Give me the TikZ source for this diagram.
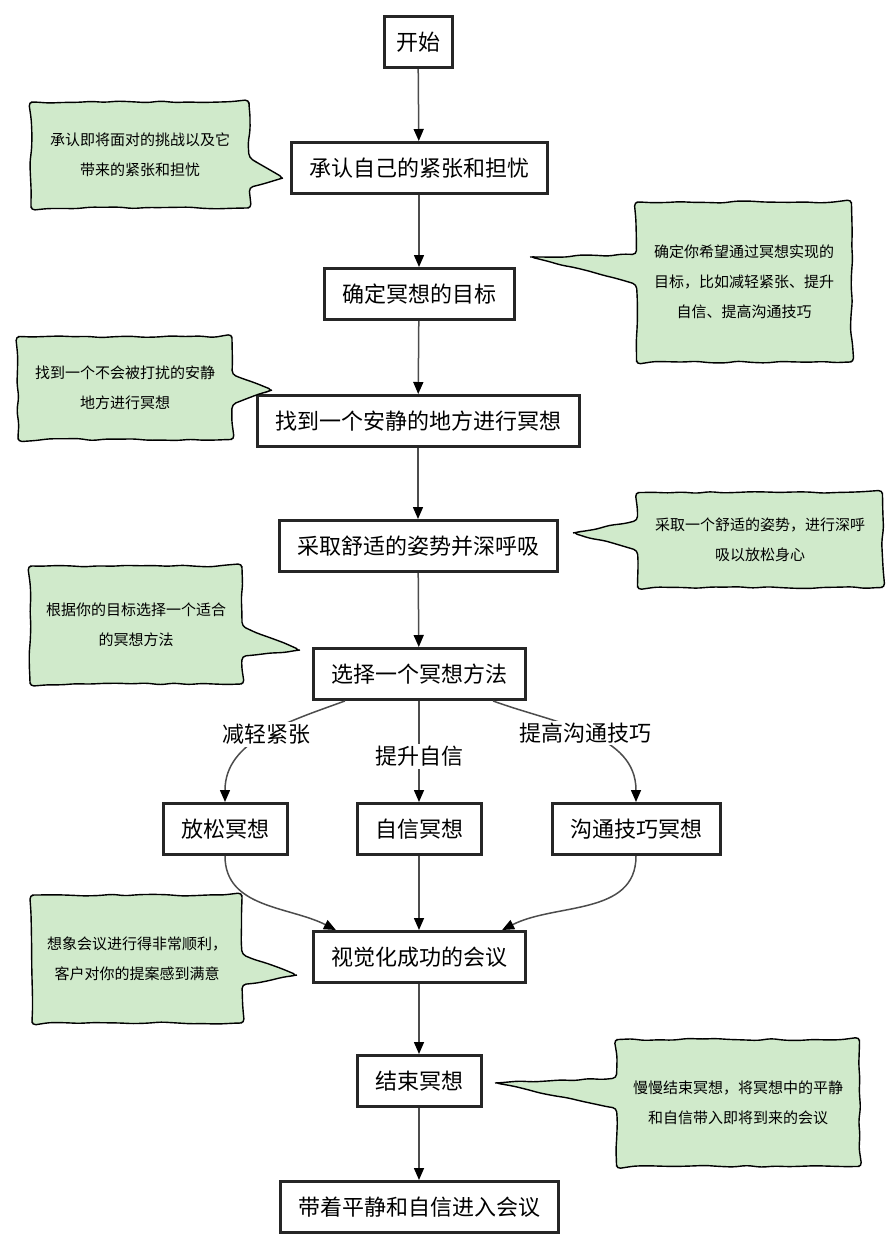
\documentclass[tikz,border=0pt]{standalone}
\usepackage{fontspec}
\setmainfont{Noto Sans CJK SC}
\usetikzlibrary{arrows.meta,shapes.callouts,decorations.pathmorphing}
\definecolor{notegreen}{RGB}{208,234,203}
\begin{document}
\begin{tikzpicture}[x=1pt,y=1pt,
    stepbox/.style={draw=black!85, line width=3pt, fill=white, minimum height=51pt, inner xsep=18pt, font=\fontsize{22}{24}\selectfont},
    note/.style={rectangle callout, draw, line width=1.4pt, fill=notegreen, align=center, callout pointer width=30pt, font=\fontsize{15}{30}\selectfont, decorate, decoration={random steps, segment length=14pt, amplitude=1.1pt}, rounded corners=4pt},
    arr/.style={draw=black!70, line width=1.5pt, -{Triangle[length=12pt,width=10pt,color=black]}},
    lbl/.style={fill=white, font=\fontsize{22}{24}\selectfont, inner sep=2pt}]
    \useasboundingbox (0,0) rectangle (891,-1251);
    \node[stepbox, inner xsep=12pt] (start) at (418,-42) {开始};
    \node[stepbox] (admit) at (419,-168) {承认自己的紧张和担忧};
    \node[stepbox] (goal) at (419,-294) {确定冥想的目标};
    \node[stepbox] (place) at (418,-421) {找到一个安静的地方进行冥想};
    \node[stepbox] (pose) at (418,-546) {采取舒适的姿势并深呼吸};
    \node[stepbox] (method) at (419,-674) {选择一个冥想方法};
    \node[stepbox] (relax) at (225,-829) {放松冥想};
    \node[stepbox] (trust) at (419,-829) {自信冥想};
    \node[stepbox] (talk) at (636,-829) {沟通技巧冥想};
    \node[stepbox] (visual) at (419,-957) {视觉化成功的会议};
    \node[stepbox] (finish) at (419,-1081) {结束冥想};
    \node[stepbox] (enter) at (419,-1207) {带着平静和自信进入会议};
    \draw[arr] (start) -- (admit);
    \draw[arr] (admit) -- (goal);
    \draw[arr] (goal) -- (place);
    \draw[arr] (place) -- (pose);
    \draw[arr] (pose) -- (method);
    \draw[arr] (method) to[out=200,in=90] node[lbl, pos=0.48]{减轻紧张} (relax.north);
    \draw[arr] (method) -- node[lbl, pos=0.55]{提升自信} (trust);
    \draw[arr] (method) to[out=-20,in=90] node[lbl, pos=0.48]{提高沟通技巧} (talk.north);
    \draw[arr] (relax) to[out=-90,in=153] (visual.162);
    \draw[arr] (trust) -- (visual);
    \draw[arr] (talk) to[out=-90,in=27] (visual.18);
    \draw[arr] (visual) -- (finish);
    \draw[arr] (finish) -- (enter);
    \node[note, minimum width=218pt, minimum height=106pt, callout absolute pointer={(283,-178)}] (n1) at (140,-155) {承认即将面对的挑战以及它\\带来的紧张和担忧};
    \node[note, minimum width=215pt, minimum height=160pt, callout absolute pointer={(530,-257)}] (n2) at (744,-282) {确定你希望通过冥想实现的\\目标，比如减轻紧张、提升\\自信、提高沟通技巧};
    \node[note, minimum width=214pt, minimum height=103pt, callout absolute pointer={(272,-390)}] (n3) at (125,-388) {找到一个不会被打扰的安静\\地方进行冥想};
    \node[note, minimum width=245pt, minimum height=95pt, callout absolute pointer={(573,-533)}] (n4) at (760,-540) {采取一个舒适的姿势，进行深呼\\吸以放松身心};
    \node[note, minimum width=212pt, minimum height=118pt, callout absolute pointer={(300,-650)}] (n5) at (136,-625) {根据你的目标选择一个适合\\的冥想方法};
    \node[note, minimum width=210pt, minimum height=128pt, callout absolute pointer={(297,-975)}] (n6) at (137,-959) {想象会议进行得非常顺利，\\客户对你的提案感到满意};
    \node[note, minimum width=243pt, minimum height=127pt, callout absolute pointer={(495,-1083)}] (n7) at (738,-1103) {慢慢结束冥想，将冥想中的平静\\和自信带入即将到来的会议};
\end{tikzpicture}
\end{document}
